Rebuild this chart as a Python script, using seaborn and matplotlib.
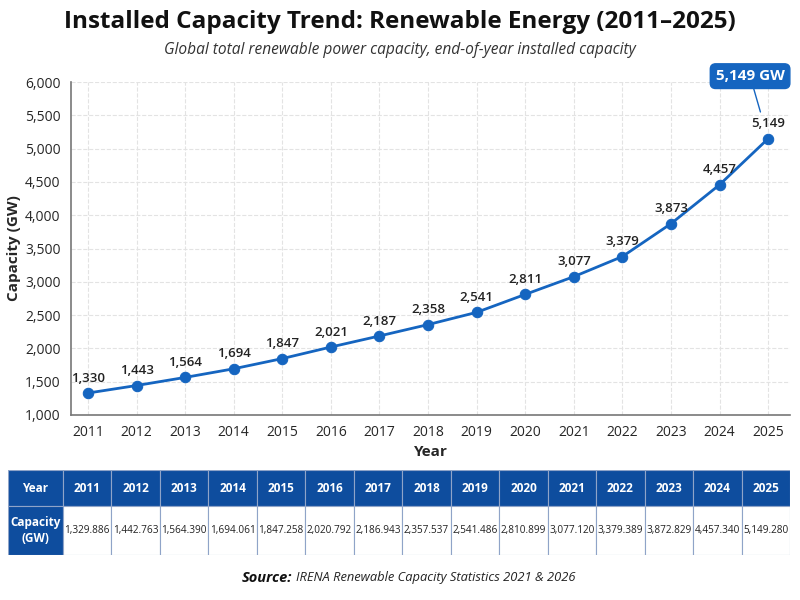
import numpy as np
import pandas as pd
import seaborn as sns
import matplotlib.pyplot as plt
from matplotlib.patches import Rectangle

years = [2011, 2012, 2013, 2014, 2015, 2016, 2017, 2018, 2019, 2020, 2021, 2022, 2023, 2024, 2025]
capacity = [1329.886, 1442.763, 1564.390, 1694.061, 1847.258, 2020.792, 2186.943, 2357.537,
            2541.486, 2810.899, 3077.120, 3379.389, 3872.829, 4457.340, 5149.280]

df = pd.DataFrame({"Year": years, "Capacity": capacity})

sns.set_style("white")
plt.rcParams['font.family'] = ['Open Sans', 'DejaVu Sans']

blue = "#1565C0"
dark_blue = "#0E4D9E"

fig = plt.figure(figsize=(8, 6), dpi=100)
ax = fig.add_axes([71 / 800, 1 - 415 / 600, 719 / 800, 333 / 600])

sns.lineplot(data=df, x="Year", y="Capacity", ax=ax, color=blue, linewidth=2,
             marker="o", markersize=7.5, markeredgecolor=blue, zorder=3)

ax.set_xlim(2010.65, 2025.45)
ax.set_ylim(1000, 6000)
ax.set_xticks(years)
ax.set_yticks(np.arange(1000, 6001, 500))
ax.yaxis.set_major_formatter(plt.FuncFormatter(lambda v, p: f"{v:,.0f}"))
ax.tick_params(axis="both", labelsize=10, length=4, color="#555555")
ax.grid(True, linestyle="--", color="#e3e3e3", linewidth=0.8)
for s in ["top", "right"]:
    ax.spines[s].set_visible(False)
for s in ["left", "bottom"]:
    ax.spines[s].set_color("#777777")
    ax.spines[s].set_linewidth(1.2)
ax.set_xlabel("Year", fontsize=11, fontweight="bold", labelpad=3)
ax.set_ylabel("Capacity (GW)", fontsize=11, fontweight="bold", labelpad=3)

for x, y in zip(years, capacity):
    ax.annotate(f"{y:,.0f}", (x, y), xytext=(0, 6), textcoords="offset points",
                ha="center", va="bottom", fontsize=9.5, fontweight="semibold", color="#222222")

# callout for the latest value
ax.annotate(f"{capacity[-1]:,.0f} GW", xy=(years[-1], capacity[-1]), xytext=(-13, 45),
            textcoords="offset points", ha="center", va="center", fontsize=11,
            fontweight="bold", color="white",
            bbox=dict(boxstyle="round,pad=0.35", fc=blue, ec=blue),
            arrowprops=dict(arrowstyle="-", color=blue, lw=1, shrinkA=0, shrinkB=20),
            annotation_clip=False)

fig.text(0.5, 1 - 22 / 600, "Installed Capacity Trend: Renewable Energy (2011\u20132025)",
         ha="center", va="center", fontsize=17.5, fontweight="bold", color="#111111")
fig.text(0.5, 1 - 50 / 600, "Global total renewable power capacity, end-of-year installed capacity",
         ha="center", va="center", fontsize=11.2, style="italic", color="#333333")

# data table
tax = fig.add_axes([8 / 800, 1 - 555 / 600, 782 / 800, 85 / 600])
tax.set_xlim(0, 782)
tax.set_ylim(0, 85)
tax.axis("off")
first_w = 55
col_w = (782 - first_w) / len(years)
header_h = 36
data_h = 49
edge = "#8fa4c8"

tax.add_patch(Rectangle((0, data_h), first_w, header_h, fc=dark_blue, ec=edge, lw=0.8))
tax.text(first_w / 2, data_h + header_h / 2, "Year", ha="center", va="center",
         color="white", fontsize=8.5, fontweight="bold")
tax.add_patch(Rectangle((0, 0), first_w, data_h, fc=dark_blue, ec=edge, lw=0.8))
tax.text(first_w / 2, data_h / 2, "Capacity\n(GW)", ha="center", va="center",
         color="white", fontsize=8.5, fontweight="bold", linespacing=1.3)
for i, (yr, cap) in enumerate(zip(years, capacity)):
    x0 = first_w + i * col_w
    tax.add_patch(Rectangle((x0, data_h), col_w, header_h, fc=dark_blue, ec=edge, lw=0.8))
    tax.text(x0 + col_w / 2, data_h + header_h / 2, str(yr), ha="center", va="center",
             color="white", fontsize=8.5, fontweight="bold")
    tax.add_patch(Rectangle((x0, 0), col_w, data_h, fc="white", ec=edge, lw=0.8))
    tax.text(x0 + col_w / 2, data_h / 2, f"{cap:,.3f}", ha="center", va="center",
             color="#222222", fontsize=7.2)

fig.text(292 / 800, 1 - 578 / 600, "Source:", ha="right", va="center", fontsize=10.5,
         style="italic", fontweight="bold", color="#111111")
fig.text(296 / 800, 1 - 578 / 600, "IRENA Renewable Capacity Statistics 2021 & 2026",
         ha="left", va="center", fontsize=9.3, style="italic", color="#222222")

fig.savefig("out.png", dpi=100)
